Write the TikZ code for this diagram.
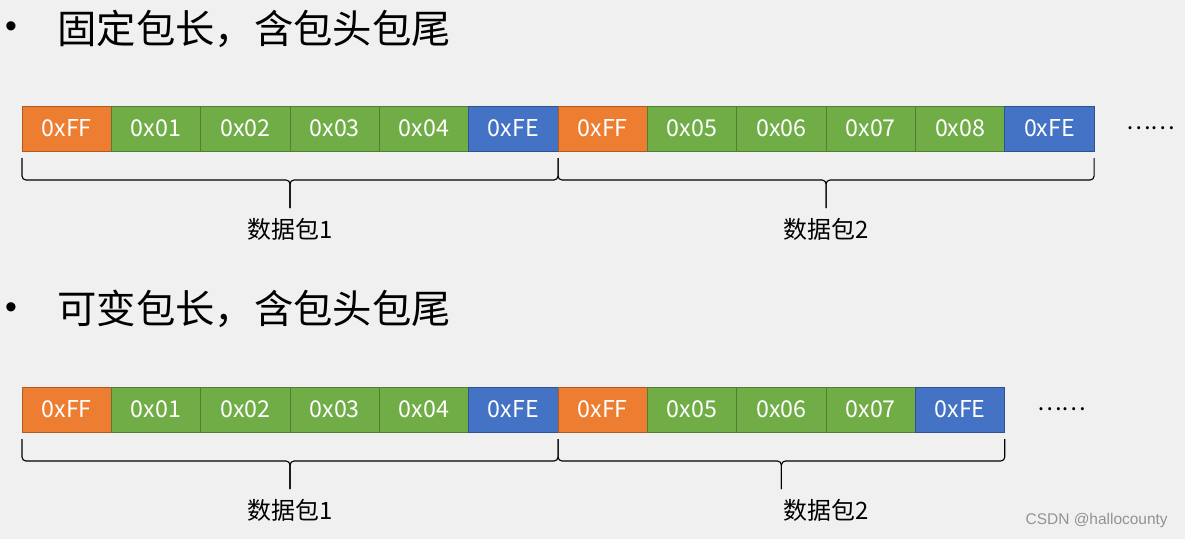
\documentclass[tikz,border=0pt]{standalone}
\usepackage{fontspec}
\newfontfamily\cjk{Noto Sans CJK SC}
\newfontfamily\arialfont{Liberation Sans}
\usepackage{xcolor}
\usetikzlibrary{positioning,calc}

\definecolor{bggray}{HTML}{F0F0F0}
\definecolor{headorange}{HTML}{ED7D31}
\definecolor{headedge}{HTML}{AE5A21}
\definecolor{bodygreen}{HTML}{70AD47}
\definecolor{bodyedge}{HTML}{507E32}
\definecolor{tailblue}{HTML}{4472C4}
\definecolor{tailedge}{HTML}{2F528F}

% brace under a packet: first node, last node, name of the tip
\newcommand{\pktbrace}[3]{%
  \coordinate (#3l) at ($(#1.south west)+(0,7)$);
  \coordinate (#3r) at ($(#2.south east)+(0,7)$);
  \coordinate (#3) at ($(#3l)!0.5!(#3r)+(0,50)$);
  \draw[bracepen] (#3l) -- ++(0,22) -| (#3);
  \draw[bracepen] (#3r) -- ++(0,22) -| (#3);
}

\begin{document}
\begin{tikzpicture}[
  x=0.025cm, y=-0.025cm,
  cell/.style={rectangle, draw, line width=0.6pt, minimum width=2.233cm, minimum height=1.125cm,
    inner sep=0pt, outer sep=0pt, text=white, font=\cjk\fontsize{16.5pt}{18pt}\selectfont},
  head/.style={cell, fill=headorange, draw=headedge},
  body/.style={cell, fill=bodygreen, draw=bodyedge},
  tail/.style={cell, fill=tailblue, draw=tailedge},
  bracepen/.style={draw=black, line width=0.8pt, rounded corners=0.1cm},
  heading/.style={anchor=west, inner sep=0pt, font=\cjk\fontsize{28pt}{30pt}\selectfont},
  bulletmark/.style={anchor=base, inner sep=0pt, font=\arialfont\fontsize{24pt}{26pt}\selectfont},
  pktlabel/.style={inner sep=0pt, font=\cjk\fontsize{17pt}{19pt}\selectfont},
  more/.style={inner sep=0pt, anchor=west, font=\cjk\fontsize{16.5pt}{18pt}\selectfont}
  ]
  \fill[bggray] (0,0) rectangle (1185,539);
  \useasboundingbox (0,0) rectangle (1185,539);

  % fixed length
  \node[bulletmark] (p1) at (11,37) {•};
  \node[heading] (h1) at (57,29) {固定包长，含包头包尾};
  \node[head, anchor=north west] (a1) at (22,106) {0xFF};
  \foreach \sty/\txt [count=\i from 2] in {body/0x01,body/0x02,body/0x03,body/0x04,tail/0xFE,
      head/0xFF,body/0x05,body/0x06,body/0x07,body/0x08,tail/0xFE}{
    \pgfmathtruncatemacro{\prev}{\i-1}
    \node[\sty, right=0pt of a\prev] (a\i) {\txt};
  }
  \node[more, right=0.8cm of a12] (e1) {……};
  \pktbrace{a1}{a6}{t1}
  \pktbrace{a7}{a12}{t2}
  \node[pktlabel] (l1) at ($(t1)+(0,21)$) {数据包1};
  \node[pktlabel] (l2) at ($(t2)+(0,21)$) {数据包2};

  % variable length
  \node[bulletmark] (p2) at (11,318) {•};
  \node[heading] (h2) at (57,309) {可变包长，含包头包尾};
  \node[head, anchor=north west] (b1) at (22,387) {0xFF};
  \foreach \sty/\txt [count=\i from 2] in {body/0x01,body/0x02,body/0x03,body/0x04,tail/0xFE,
      head/0xFF,body/0x05,body/0x06,body/0x07,tail/0xFE}{
    \pgfmathtruncatemacro{\prev}{\i-1}
    \node[\sty, right=0pt of b\prev] (b\i) {\txt};
  }
  \node[more, right=0.8cm of b11] (e2) {……};
  \pktbrace{b1}{b6}{t3}
  \pktbrace{b7}{b11}{t4}
  \node[pktlabel] (l3) at ($(t3)+(0,21)$) {数据包1};
  \node[pktlabel] (l4) at (l2 |- l3) {数据包2};

  \node[anchor=east, inner sep=0pt, text=gray!85, font=\arialfont\fontsize{11pt}{12pt}\selectfont] (wm) at (1168,520) {CSDN @hallocounty};
\end{tikzpicture}
\end{document}
